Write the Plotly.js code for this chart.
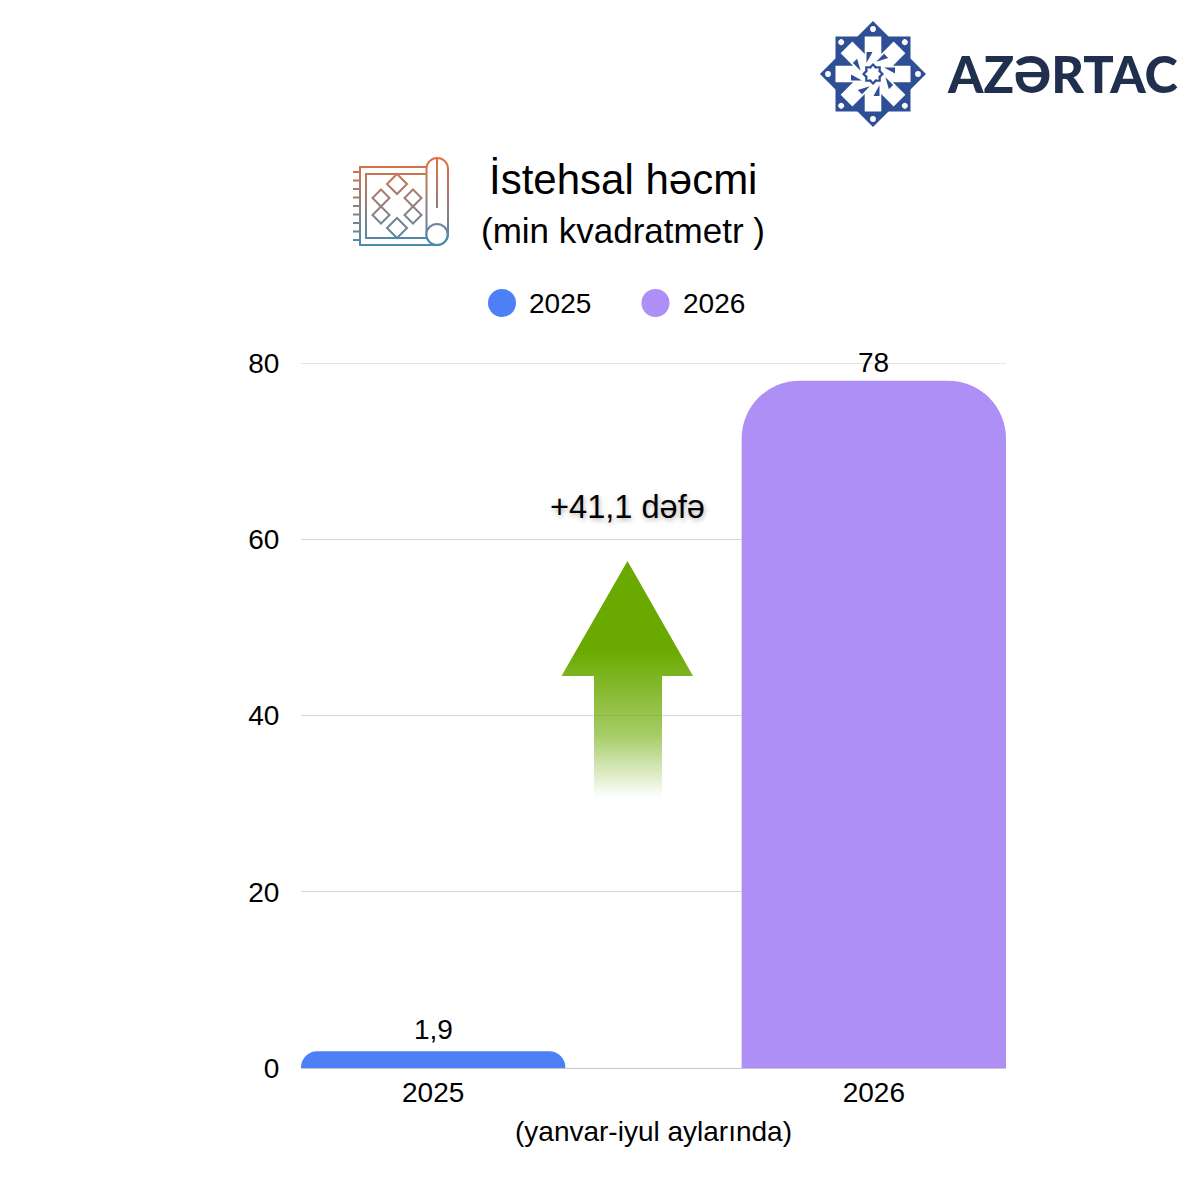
<!DOCTYPE html>
<html><head><meta charset="utf-8">
<script src="https://cdn.plot.ly/plotly-3.0.1.min.js"></script>
<style>html,body{margin:0;padding:0;background:#fff}</style></head>
<body><div id="chart" style="width:1200px;height:1200px"></div>
<script>
const years = ['2025', '2026'];
const values2025 = [1.9];
const values2026 = [78];
const labels2025 = ['1,9'];
const labels2026 = ['78'];
const yTicks = [0, 20, 40, 60, 80];
const colors = ['#4d80f7', '#ae8ff5'];
const FONT = 'Liberation Sans, Arial, sans-serif';

const L = 301, R = 1006, T = 363, B = 1068;
const px = x => (x - L) / (R - L);
const py = y => (B - y) / (B - T);

function svgUri(vb, inner) {
  const s = `<svg xmlns="http://www.w3.org/2000/svg" viewBox="${vb.join(' ')}" width="${vb[2]*4}" height="${vb[3]*4}">${inner}</svg>`;
  return 'data:image/svg+xml;charset=utf-8,' + encodeURIComponent(s);
}
function image(vb, inner) {
  return {source: svgUri(vb, inner), xref: 'paper', yref: 'paper', x: px(vb[0]), y: py(vb[1]),
    sizex: vb[2] / (R - L), sizey: vb[3] / (B - T), xanchor: 'left', yanchor: 'top', sizing: 'stretch', layer: 'above'};
}

// decorative arrow
const arrow = `<defs><linearGradient id="g" gradientUnits="userSpaceOnUse" x1="0" y1="650" x2="0" y2="798">
<stop offset="0" stop-color="#6aaa00" stop-opacity="1"/><stop offset="0.574" stop-color="#6aaa00" stop-opacity="0.6"/><stop offset="1" stop-color="#6aaa00" stop-opacity="0"/></linearGradient></defs>
<polygon fill="url(#g)" points="627.5,561 693,676 662,676 662,798 594,798 594,676 561.5,676"/>`;

// carpet icon
const diamond = (cx, cy, r) => `<polygon points="${cx},${cy-r} ${cx+r},${cy} ${cx},${cy+r} ${cx-r},${cy}"/>`;
let fringe = '';
[172, 180.5, 189, 197.5, 206, 214.5, 223, 231.5, 240].forEach(y => fringe += `<line x1="353" x2="360" y1="${y}" y2="${y}"/>`);
const carpet = `<defs><linearGradient id="c" gradientUnits="userSpaceOnUse" x1="0" y1="158" x2="0" y2="245">
<stop offset="0" stop-color="#e4703f"/><stop offset="1" stop-color="#4a8bb0"/></linearGradient></defs>
<g fill="none" stroke="url(#c)" stroke-width="2">${fringe}
<path d="M427,167 H360 V245 H437"/><path d="M427,174 H366 V238 H427"/>
<rect x="426.5" y="158" width="21.5" height="87" rx="10.75"/>
<line x1="437" x2="437" y1="158" y2="208"/>
<circle cx="437" cy="234.5" r="10.6" fill="#fff"/>
${diamond(397,184,10)}${diamond(381,198,8.5)}${diamond(413,198,8.5)}${diamond(381,215,8.5)}${diamond(413,215,8.5)}${diamond(397,228,10)}</g>`;

// emblem
let petals = '', wedges = '', dots = '';
for (let i = 0; i < 8; i++) {
  const a = i * 45;
  petals += `<polygon transform="rotate(${a})" fill="#fff" points="-8.3,-37.5 8.3,-37.5 8.3,-16 -8.3,-10"/>`;
  wedges += `<polygon transform="rotate(${a})" fill="#2e4f95" points="-6.5,-22 -0.5,-22 -6.5,-11"/>`;
  dots += `<circle transform="rotate(${a})" cx="0" cy="-45" r="2.9" fill="#fff"/>`;
}
function rosette(r1, r2, fill) {
  const p = [];
  for (let i = 0; i < 16; i++) {
    const r = i % 2 ? r2 : r1, t = i * Math.PI / 8;
    p.push((r * Math.sin(t)).toFixed(2) + ',' + (-r * Math.cos(t)).toFixed(2));
  }
  return `<polygon fill="${fill}" points="${p.join(' ')}"/>`;
}
const emblem = `<g transform="translate(873,74)">
<rect x="-37.5" y="-37.5" width="75" height="75" fill="#2e4f95"/>
<rect x="-37.5" y="-37.5" width="75" height="75" fill="#2e4f95" transform="rotate(45)"/>
${petals}<circle r="17" fill="#fff"/>${wedges}${rosette(11, 8.5, '#2e4f95')}${rosette(8, 5.8, '#fff')}${dots}</g>`;

const note = (x, y, text, size, extra) => Object.assign({
  xref: 'paper', yref: 'paper', x: px(x), y: py(y), text, showarrow: false,
  xanchor: 'center', yanchor: 'middle', font: {family: FONT, size, color: '#000'}
}, extra || {});
const barLabel = (idx, y, text, yshift) => ({xref: 'x', yref: 'y', x: idx, y, text, showarrow: false, xanchor: 'center', yanchor: 'middle',
  yshift, font: {family: FONT, size: 28, color: '#000'}});

const traces = [
  {type: 'bar', name: years[0], x: [years[0]], y: values2025, marker: {color: colors[0], cornerradius: 17}, width: 0.6, hoverinfo: 'x+y'},
  {type: 'bar', name: years[1], x: [years[1]], y: values2026, marker: {color: colors[1], cornerradius: 58}, width: 0.6, hoverinfo: 'x+y'}
];

const layout = {
  width: 1200, height: 1200,
  margin: {l: L, r: 1200 - R, t: T, b: 1200 - B, pad: 0},
  paper_bgcolor: '#fff', plot_bgcolor: '#fff',
  barmode: 'overlay', showlegend: false,
  font: {family: FONT, color: '#000'},
  xaxis: {type: 'category', categoryorder: 'array', categoryarray: years, range: [-0.3, 1.3], showgrid: false,
    showline: false, ticks: '', ticklabelstandoff: 5, tickfont: {family: FONT, size: 28, color: '#000'}, automargin: false},
  yaxis: {range: [0, 80], tickvals: yTicks, showgrid: true, gridcolor: '#d9d9d9', gridwidth: 1, zeroline: true, zerolinecolor: '#c8c8c8',
    zerolinewidth: 1, ticks: 'outside', ticklen: 15, tickcolor: 'rgba(0,0,0,0)', tickfont: {family: FONT, size: 28, color: '#000'}, automargin: false},
  shapes: [
    {type: 'line', xref: 'paper', yref: 'y', x0: 0, x1: 1, y0: yTicks[4], y1: yTicks[4], layer: 'below', line: {color: '#e4e4e4', width: 2}},
    {type: 'circle', xref: 'paper', yref: 'paper', x0: px(488), x1: px(516), y0: py(317), y1: py(289), fillcolor: colors[0], line: {width: 0}},
    {type: 'circle', xref: 'paper', yref: 'paper', x0: px(641.5), x1: px(669.5), y0: py(317), y1: py(289), fillcolor: colors[1], line: {width: 0}}
  ],
  images: [image([555, 555, 145, 250], arrow), image([345, 150, 112, 105], carpet), image([815, 15, 116, 116], emblem)],
  annotations: [
    barLabel(0, values2025[0], labels2025[0], 22),
    barLabel(1, values2026[0], labels2026[0], 18),
    note(623, 180, 'İstehsal həcmi', 42),
    note(623, 231, '(min kvadratmetr )', 35),
    note(527, 303, years[0], 28, {xanchor: 'left'}),
    note(680.5, 303, years[1], 28, {xanchor: 'left'}),
    note(627, 506, '+41,1 dəfə', 32.6, {font: {family: FONT, size: 32.6, color: '#000', shadow: '1px 2px 5px rgba(0,0,0,0.3)'}}),
    note(653, 1131, '(yanvar-iyul aylarında)', 28),
    note(945, 73.5, 'AZƏRTAC', 50.5, {xanchor: 'left', font: {family: 'Lato, Liberation Sans, sans-serif', size: 50.5, weight: 900, color: '#1f2f4d'}})
  ]
};
Plotly.newPlot('chart', traces, layout, {displayModeBar: false, responsive: false});
</script></body></html>
